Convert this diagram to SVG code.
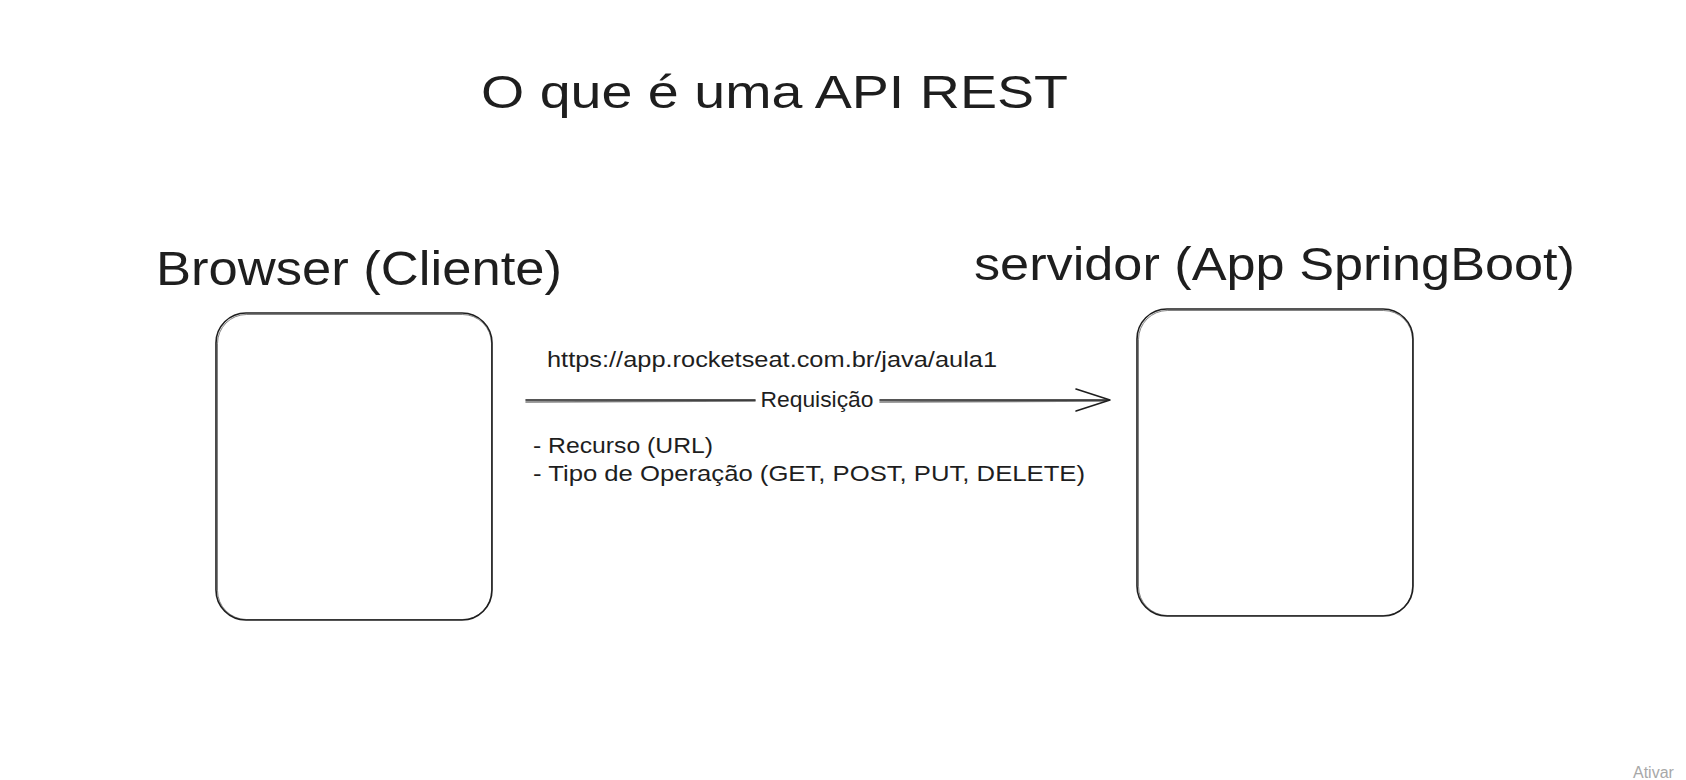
<svg xmlns="http://www.w3.org/2000/svg" width="1686" height="780" viewBox="0 0 1686 780">
<style>
.t{font-family:"Liberation Sans","DejaVu Sans",sans-serif;fill:#1e1e1e}
.box{fill:none;stroke:#1e1e1e;stroke-width:1.6}
.box2{fill:none;stroke:#1e1e1e;stroke-width:0.8;opacity:0.7}
.ln{fill:none;stroke:#1e1e1e;stroke-width:1.6;stroke-linecap:round;stroke-linejoin:round}
</style>
<rect width="1686" height="780" fill="#ffffff"/>
<g id="title"><text class="t" x="481" y="108" font-size="46" textLength="587" lengthAdjust="spacingAndGlyphs">O que é uma API REST</text></g>
<g id="browser">
<text class="t" x="156" y="285" font-size="48" textLength="406" lengthAdjust="spacingAndGlyphs">Browser (Cliente)</text>
<rect class="box" x="216" y="313" width="276" height="307" rx="30"/>
<rect class="box2" x="217.5" y="314.5" width="274" height="305" rx="29"/>
</g>
<g id="servidor">
<text class="t" x="974" y="280" font-size="46" textLength="601" lengthAdjust="spacingAndGlyphs">servidor (App SpringBoot)</text>
<rect class="box" x="1137" y="309" width="276" height="307" rx="30"/>
<rect class="box2" x="1138.5" y="310.5" width="274" height="305" rx="29"/>
</g>
<g id="connectors">
<path class="ln" d="M526 400 L755 400 M880 400 L1108 400"/>
<path class="ln" d="M526 402 L755 401 M880 402 L1106 401" stroke-width="0.8" opacity="0.6"/>
<path class="ln" d="M1076 389 L1110 400 L1076 411"/>
<text class="t" x="817" y="407" font-size="22" text-anchor="middle" textLength="113" lengthAdjust="spacingAndGlyphs">Requisição</text>
<text class="t" x="547" y="367" font-size="22" textLength="450" lengthAdjust="spacingAndGlyphs">https://app.rocketseat.com.br/java/aula1</text>
<text class="t" x="533" y="453" font-size="22" textLength="180" lengthAdjust="spacingAndGlyphs">- Recurso (URL)</text>
<text class="t" x="533" y="481" font-size="22" textLength="552" lengthAdjust="spacingAndGlyphs">- Tipo de Operação (GET, POST, PUT, DELETE)</text>
</g>
<text x="1633" y="778" font-family="'Liberation Sans',sans-serif" font-size="16" fill="#a8a8a8">Ativar</text>
</svg>
